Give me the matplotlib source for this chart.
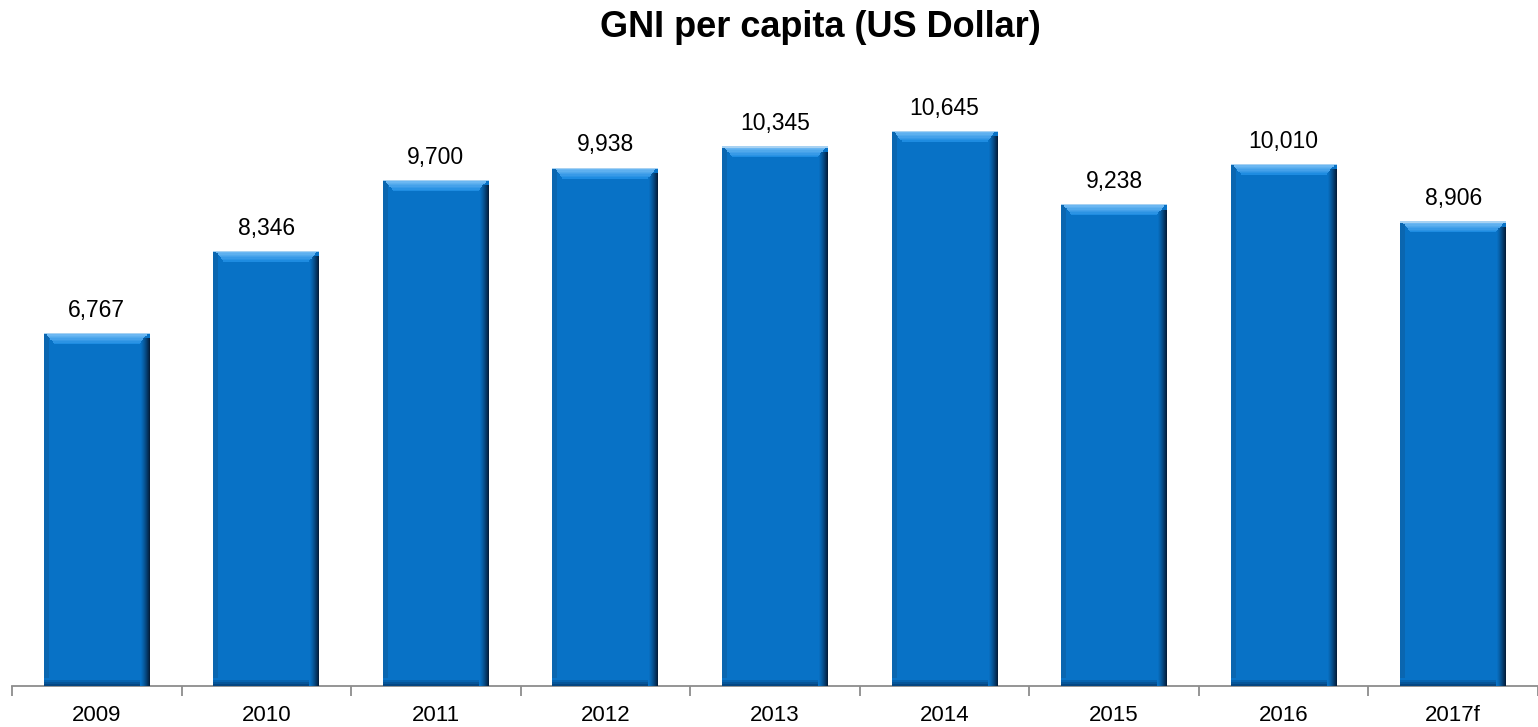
import matplotlib
matplotlib.use("Agg")
import matplotlib.pyplot as plt
import numpy as np
from matplotlib.ticker import FixedLocator

years = ["2009", "2010", "2011", "2012", "2013", "2014", "2015", "2016", "2017f"]
gni = [6767, 8346, 9700, 9938, 10345, 10645, 9238, 10010, 8906]
title = "GNI per capita (US Dollar)"

plt.rcParams['font.family'] = ['Liberation Sans', 'DejaVu Sans']

fig = plt.figure(figsize=(15.38, 7.27), dpi=100)
ax = fig.add_axes([12/1538, 1 - 686/727, 1 - 12/1538, (686 - 60)/727])

x = np.arange(len(years))
vals = np.array(gni, dtype=float)
w = 0.625
ymax = 12000
ax.set_xlim(-0.5, len(years) - 0.5)
ax.set_ylim(0, ymax)

main = "#0872C6"
ax.bar(x, vals, width=w, color=main, zorder=2)

# bevel effect: sizes in data units derived from axes scale
px_y = ymax / 626.0
px_x = 9 / 1526.0
top_h = 11 * px_y
side_w = 10 * px_x
bot_h = 8 * px_y
# right dark edge (gradient)
n = 10
for i in range(n):
    frac = (i / (n - 1)) ** 1.3
    c = np.array([8, 114, 198]) * (1 - frac) + np.array([3, 30, 60]) * frac
    ax.bar(x + w / 2 - side_w + (i + 0.5) * side_w / n, vals - top_h * 0.5, width=side_w / n,
           bottom=0, color=c / 255, zorder=3, linewidth=0)
# left subtle edge
ax.bar(x - w / 2 + side_w * 0.25, vals, width=side_w * 0.5, color="#0A66B0", zorder=3, linewidth=0)
# bottom dark edge
for i in range(4):
    frac = i / 3
    c = np.array([5, 70, 130]) * (1 - frac) + np.array([8, 114, 198]) * frac
    ax.bar(x - side_w / 2, bot_h / 4, width=w - side_w, bottom=i * bot_h / 4, color=c / 255,
           zorder=3, linewidth=0)
# top light bevel (gradient)
m = 8
for i in range(m):
    frac = i / (m - 1)
    c = np.array([120, 190, 245]) * (1 - frac) + np.array([30, 140, 225]) * frac
    ax.bar(x, top_h / m, width=w - side_w * (0.4 + 1.6 * frac), bottom=vals - (i + 1) * top_h / m,
           color=c / 255, zorder=4, linewidth=0)
ax.bar(x, top_h * 0.12, width=w, bottom=vals - top_h * 0.12, color="#A8D2F2", zorder=5, linewidth=0)

for xi, v in zip(x, gni):
    ax.annotate(f"{v:,}", (xi, v), xytext=(0, 8), textcoords="offset points",
                ha="center", va="bottom", fontsize=16.5, color="#000000")

for s in ["top", "right", "left"]:
    ax.spines[s].set_visible(False)
ax.spines["bottom"].set_color("#8C8C8C")
ax.spines["bottom"].set_linewidth(1.3)
ax.set_yticks([])

ax.xaxis.set_major_locator(FixedLocator(np.arange(-0.5, len(years) - 0.4, 1.0)))
ax.set_xticklabels([""] * len(years + [""]))
ax.set_xticks(x, minor=True)
ax.set_xticklabels(years, minor=True, fontsize=16)
ax.tick_params(axis="x", which="major", length=7, width=1.3, color="#8C8C8C", direction="out")
ax.tick_params(axis="x", which="minor", length=0, pad=14)

fig.text(820.5 / 1538, 1 - 37 / 727, title, fontsize=26, fontweight="bold",
         ha="center", va="baseline")

fig.savefig("out.png", dpi=100)
